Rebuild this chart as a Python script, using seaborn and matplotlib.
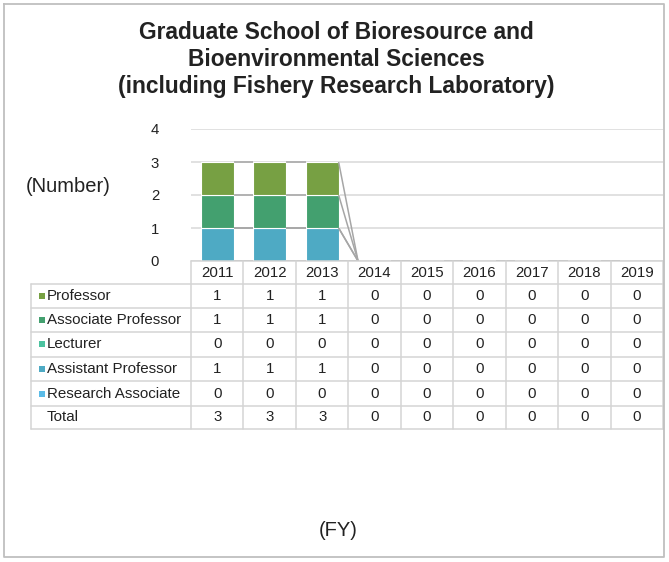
import matplotlib
matplotlib.use("Agg")
import matplotlib.pyplot as plt
import matplotlib.transforms as mtransforms
import numpy as np
import pandas as pd
import seaborn as sns

# data
years = ["2011", "2012", "2013", "2014", "2015", "2016", "2017", "2018", "2019"]
roles = ["Professor", "Associate Professor", "Lecturer", "Assistant Professor", "Research Associate"]
professor = [1, 1, 1, 0, 0, 0, 0, 0, 0]
associate_professor = [1, 1, 1, 0, 0, 0, 0, 0, 0]
lecturer = [0, 0, 0, 0, 0, 0, 0, 0, 0]
assistant_professor = [1, 1, 1, 0, 0, 0, 0, 0, 0]
research_associate = [0, 0, 0, 0, 0, 0, 0, 0, 0]
colors = ["#77a043", "#43a06f", "#4cc3a0", "#4eaac4", "#5bbce8"]

series = [professor, associate_professor, lecturer, assistant_professor, research_associate]
totals = list(np.sum(series, axis=0))

rows = []
for role, vals in zip(roles, series):
    for i, v in enumerate(vals):
        rows.append({"idx": i, "role": role, "count": v})
df = pd.DataFrame(rows)

sns.set_style("white")
plt.rcParams["font.family"] = ["Liberation Sans", "DejaVu Sans"]

W, H = 669, 562
fig = plt.figure(figsize=(W / 100, H / 100), dpi=100)

# full-figure overlay in pixel coordinates for table / frame
ov = fig.add_axes([0, 0, 1, 1], zorder=3)
ov.set_xlim(0, W)
ov.set_ylim(H, 0)
ov.axis("off")
ov.patch.set_alpha(0)

ax_l, ax_r, ax_t, ax_b = 191, 663, 129, 261
ax = fig.add_axes([ax_l / W, 1 - ax_b / H, (ax_r - ax_l) / W, (ax_b - ax_t) / H], zorder=2)

sns.histplot(data=df, x="idx", weights="count", hue="role", hue_order=roles,
             palette=dict(zip(roles, colors)), multiple="stack", discrete=True,
             shrink=0.63, alpha=1, edgecolor="white", linewidth=0.8,
             legend=False, ax=ax)
for p in ax.patches:
    if p.get_height() == 0:
        p.set_visible(False)

# series lines between neighbouring stacks
bw = 0.63
stack = np.cumsum(np.array(series[::-1]), axis=0)
for level in stack:
    for i in range(len(years) - 1):
        ax.plot([i + bw / 2, i + 1 - bw / 2], [level[i], level[i + 1]],
                color="#a6a6a6", lw=1.1, zorder=1, solid_capstyle="butt")

ax.set_xlim(-0.5, len(years) - 0.5)
ax.set_ylim(0, 4)
ax.set_yticks([0, 1, 2, 3, 4])
ax.set_xticks([])
ax.set_xlabel("")
ax.set_ylabel("")
ax.grid(axis="y", color="#d9d9d9", lw=1.1)
ax.set_axisbelow(True)
for s in ax.spines.values():
    s.set_visible(False)
ax.tick_params(axis="y", length=0, pad=23, labelsize=10.7, labelcolor="#222222")
ax.patch.set_alpha(0)

# table
tr = mtransforms.blended_transform_factory(ax.transData, ov.transData)
lc = "#d4d4d4"
n = len(years)
row_lines = [284, 308, 332, 357, 381, 406, 429]
row_mid = [296, 320, 344, 369, 394, 417]
tab_left = 31

# header row
ov.plot([-0.5, n - 0.5], [261, 261], color=lc, lw=1.1, transform=tr)
for j in range(n + 1):
    ov.plot([j - 0.5, j - 0.5], [261, 429], color=lc, lw=1.1, transform=tr)
for j, y in enumerate(years):
    ov.text(j, 273, y, ha="center", va="center", fontsize=10.8, color="#222222", transform=tr)

right_x = ax.transData.transform((n - 0.5, 0))[0]
for yl in row_lines:
    ov.plot([tab_left, right_x], [yl, yl], color=lc, lw=1.1)
ov.plot([tab_left, tab_left], [284, 429], color=lc, lw=1.1)

labels = roles + ["Total"]
values = series + [totals]
for r, (lab, vals) in enumerate(zip(labels, values)):
    ym = row_mid[r]
    ov.text(47, ym, lab, ha="left", va="center", fontsize=10.9, color="#222222")
    if r < len(roles):
        ov.scatter([41.5], [ym], marker="s", s=13, color=colors[r], linewidths=0)
    for j, v in enumerate(vals):
        ov.text(j, ym, str(v), ha="center", va="center", fontsize=10.8, color="#222222", transform=tr)

# titles
ov.text(336, 59.5, "Graduate School of Bioresource and\nBioenvironmental Sciences\n(including Fishery Research Laboratory)",
        ha="center", va="center", fontsize=16.4, fontweight="bold", color="#222222", linespacing=1.23)
ov.text(68, 187, "(Number)", ha="center", va="center", fontsize=14.5, color="#222222")
ov.text(338, 530, "(FY)", ha="center", va="center", fontsize=14.5, color="#222222")

# outer frame
ov.plot([4, 664, 664, 4, 4], [4, 4, 557, 557, 4], color="#bfbfbf", lw=1.3)

fig.savefig("out.png", dpi=100)
